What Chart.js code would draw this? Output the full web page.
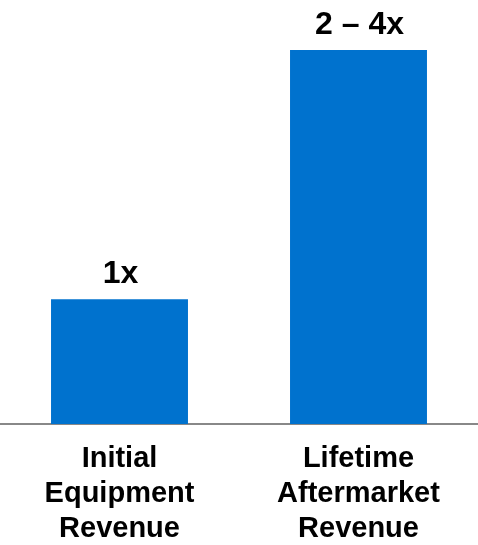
<!DOCTYPE html>
<html>
<head>
<meta charset="utf-8">
<script src="https://cdn.jsdelivr.net/npm/chart.js@4/dist/chart.umd.min.js"></script>
<style>
  html, body { margin: 0; padding: 0; background: #ffffff; }
  #wrap { width: 478px; height: 545px; position: relative; }
</style>
</head>
<body>
<div id="wrap"><canvas id="c"></canvas></div>
<script>
const categories = [
  ["Initial", "Equipment", "Revenue"],
  ["Lifetime", "Aftermarket", "Revenue"]
];
const values = [1, 3];
const valueLabels = ["1x", "2 \u2013 4x"];

const FONT = "'Liberation Sans', Arial, Helvetica, sans-serif";

const barLabelPlugin = {
  id: 'barLabels',
  afterDatasetsDraw(chart) {
    const ctx = chart.ctx;
    const meta = chart.getDatasetMeta(0);
    ctx.save();
    ctx.font = "bold 32px " + FONT;
    ctx.fillStyle = "#000000";
    ctx.textAlign = "center";
    ctx.textBaseline = "alphabetic";
    meta.data.forEach((bar, i) => {
      ctx.fillText(valueLabels[i], bar.x + 1, bar.y - 16);
    });
    ctx.restore();
  }
};

new Chart(document.getElementById('c'), {
  type: 'bar',
  data: {
    labels: categories,
    datasets: [{
      data: values,
      backgroundColor: '#0072CE',
      borderWidth: 0,
      barPercentage: 1,
      categoryPercentage: 0.573
    }]
  },
  options: {
    responsive: true,
    maintainAspectRatio: false,
    animation: false,
    layout: { padding: { top: 50, left: 0, right: 0, bottom: 0 } },
    plugins: {
      legend: { display: false },
      tooltip: { enabled: false }
    },
    scales: {
      y: {
        display: false,
        min: 0,
        max: 3
      },
      x: {
        afterFit(scale) { scale.height = 121; },
        grid: { display: false, drawTicks: false },
        border: { display: true, color: '#888888', width: 2 },
        ticks: {
          color: '#000000',
          padding: 18,
          maxRotation: 0,
          autoSkip: false,
          font: { family: FONT, size: 29, weight: 'bold', lineHeight: 1.2 }
        }
      }
    }
  },
  plugins: [barLabelPlugin]
});
</script>
</body>
</html>
